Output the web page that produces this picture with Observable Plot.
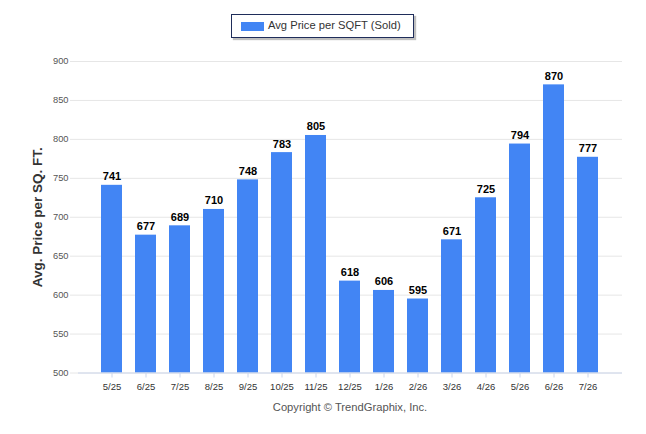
<!DOCTYPE html>
<html>
<head>
<meta charset="utf-8">
<script src="https://cdn.jsdelivr.net/npm/d3@7"></script>
<script src="https://cdn.jsdelivr.net/npm/@observablehq/plot@0.6"></script>
<style>
  html, body { margin: 0; padding: 0; background: #fff; }
  #wrap { position: relative; width: 646px; height: 434px; font-family: "Liberation Sans", Arial, sans-serif; }
  #legend { height: 48px; position: relative; }
  #legend .box { position: absolute; left: 231px; top: 14px; width: 181px; height: 22px; border: 1px solid #1f2d5a; box-shadow: 2px 2px 1px rgba(0,0,0,0.25); background: #fff; }
  #legend .sw { position: absolute; left: 9px; top: 7px; width: 23px; height: 9px; background: #4285f4; }
  #legend .lbl { position: absolute; left: 36px; top: 4px; font-size: 11.2px; color: #333; white-space: nowrap; }
  #caption { text-align: center; font-size: 11.2px; color: #555; margin-left: 54px; padding-top: 3px; }
  svg text { font-family: "Liberation Sans", Arial, sans-serif; }
</style>
</head>
<body>
<div id="wrap">
  <div id="legend"><div class="box"><div class="sw"></div><div class="lbl">Avg Price per SQFT (Sold)</div></div></div>
  <div id="chart"></div>
  <div id="caption">Copyright © TrendGraphix, Inc.</div>
</div>
<script>
const months = ["5/25","6/25","7/25","8/25","9/25","10/25","11/25","12/25","1/26","2/26","3/26","4/26","5/26","6/26","7/26"];
const values = [741,677,689,710,748,783,805,618,606,595,671,725,794,870,777];
const yTicks = [500,550,600,650,700,750,800,850,900];

const data = months.map((m, i) => ({month: m, value: values[i]}));

const chart = Plot.plot({
  width: 646,
  height: 350,
  marginLeft: 78,
  marginRight: 24,
  marginTop: 13,
  marginBottom: 25.5,
  x: {domain: months, paddingInner: 0.38, paddingOuter: 0.69, label: null},
  y: {domain: [500, 900], label: null},
  marks: [
    Plot.ruleY(yTicks, {stroke: "#e6e6e6", strokeWidth: 1}),
    Plot.axisY({ticks: yTicks, tickSize: 8, tickPadding: 2, stroke: "#e6e6e6", strokeOpacity: 1, fill: "#555", fontSize: 9.3, label: null}),
    Plot.barY(data, {x: "month", y1: 500, y2: "value", fill: "#4285f4"}),
    Plot.text(data, {x: "month", y: "value", text: d => String(d.value), dy: -5, lineAnchor: "bottom", fontWeight: "bold", fontSize: 11, fill: "#000"}),
    Plot.ruleY([500], {stroke: "#ccd6eb", strokeWidth: 1}),
    Plot.axisX({tickSize: 5, tickPadding: 5, stroke: "#ccd6eb", strokeOpacity: 1, fill: "#333", fontSize: 9.5, label: null}),
    Plot.text(["Avg. Price per SQ. FT."], {frameAnchor: "left", dx: -41, rotate: -90, textAnchor: "middle", fontWeight: "bold", fontSize: 13.5, fill: "#333", fontFamily: "Open Sans"})
  ]
});
document.getElementById("chart").appendChild(chart);
</script>
</body>
</html>
